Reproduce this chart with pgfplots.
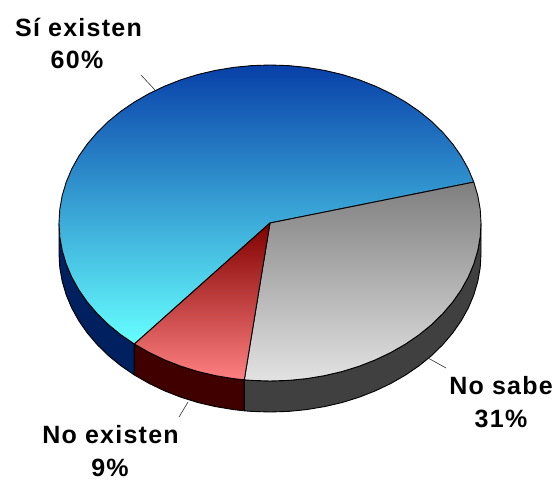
\documentclass[border=0pt]{standalone}
\usepackage{pgfplots}
\pgfplotsset{compat=1.18}
\usepackage{fontspec}
\setmainfont{Liberation Sans}
\newfontfamily\lab[LetterSpace=5]{Liberation Sans}
\definecolor{bluetop}{HTML}{0840A8}
\definecolor{bluebot}{HTML}{66FFFF}
\definecolor{graytop}{HTML}{7F7F7F}
\definecolor{graybot}{HTML}{E2E2E2}
\definecolor{redtop}{HTML}{800000}
\definecolor{redbot}{HTML}{FF8080}
\definecolor{blueside}{HTML}{002060}
\definecolor{redside}{HTML}{400000}
\definecolor{grayside}{HTML}{404040}
\begin{document}
\begin{tikzpicture}
\begin{axis}[
  scale only axis, width=559pt, height=479pt,
  xmin=0, xmax=559, ymin=0, ymax=479, y dir=reverse,
  hide axis, clip=false,
  every axis plot/.append style={line join=round},
]
% page extent
\addplot[draw=none, fill=white] coordinates {(0,0)(559,0)(559,479)(0,479)} -- cycle;
% sides
\addplot[draw=black, line width=0.9pt, fill=blueside] coordinates {
(59,223)(59.8,236.8)(62.2,250.4)(66.2,263.9)(71.7,277)(78.8,289.8)(87.3,302)(97.2,313.6)(108.4,324.6)(120.8,334.7)(134.4,344)
(134.4,375)(120.8,365.7)(108.4,355.6)(97.2,344.6)(87.3,333)(78.8,320.8)(71.7,308)(66.2,294.9)(62.2,281.4)(59.8,267.8)(59,254)} -- cycle;
\addplot[draw=black, line width=0.9pt, fill=redside] coordinates {
(134.4,344)(149,352.4)(164.5,359.8)(180.8,366.2)(197.8,371.5)(215.4,375.6)(233.4,378.6)(244.3,379.8)
(244.3,410.8)(233.4,409.6)(215.4,406.6)(197.8,402.5)(180.8,397.2)(164.5,390.8)(149,383.4)(134.4,375)} -- cycle;
\addplot[draw=black, line width=0.9pt, fill=grayside] coordinates {
(244.3,379.8)(251.6,380.4)(270,381)(288.4,380.4)(306.6,378.6)(324.6,375.6)(342.2,371.5)(359.2,366.2)(375.5,359.8)(391,352.4)(405.6,344)(419.2,334.7)(431.6,324.6)(442.8,313.6)(452.7,302)(461.2,289.8)(468.3,277)(473.8,263.9)(477.8,250.4)(480.2,236.8)(481,223)
(481,254)(480.2,267.8)(477.8,281.4)(473.8,294.9)(468.3,308)(461.2,320.8)(452.7,333)(442.8,344.6)(431.6,355.6)(419.2,365.7)(405.6,375)(391,383.4)(375.5,390.8)(359.2,397.2)(342.2,402.5)(324.6,406.6)(306.6,409.6)(288.4,411.4)(270,412)(251.6,411.4)(244.3,410.8)} -- cycle;
% Si existen 60%
\addplot[draw=black, line width=0.9pt, top color=bluetop, bottom color=bluebot] coordinates {
(270,223)(473.8,182.1)(468.3,169)(461.2,156.2)(452.7,144)(442.8,132.4)(431.6,121.4)(419.2,111.3)(405.6,102)(391,93.6)(375.5,86.2)(359.2,79.8)(342.2,74.5)(324.6,70.4)(306.6,67.4)(288.4,65.6)(270,65)(251.6,65.6)(233.4,67.4)(215.4,70.4)(197.8,74.5)(180.8,79.8)(164.5,86.2)(149,93.6)(134.4,102)(120.8,111.3)(108.4,121.4)(97.2,132.4)(87.3,144)(78.8,156.2)(71.7,169)(66.2,182.1)(62.2,195.6)(59.8,209.2)(59,223)(59.8,236.8)(62.2,250.4)(66.2,263.9)(71.7,277)(78.8,289.8)(87.3,302)(97.2,313.6)(108.4,324.6)(120.8,334.7)(134.4,344)} -- cycle;
% No sabe 31%
\addplot[draw=black, line width=0.9pt, top color=graytop, bottom color=graybot] coordinates {
(270,223)(244.3,379.8)(251.6,380.4)(270,381)(288.4,380.4)(306.6,378.6)(324.6,375.6)(342.2,371.5)(359.2,366.2)(375.5,359.8)(391,352.4)(405.6,344)(419.2,334.7)(431.6,324.6)(442.8,313.6)(452.7,302)(461.2,289.8)(468.3,277)(473.8,263.9)(477.8,250.4)(480.2,236.8)(481,223)(480.2,209.2)(477.8,195.6)(473.8,182.1)} -- cycle;
% No existen 9%
\addplot[draw=black, line width=0.9pt, top color=redtop, bottom color=redbot] coordinates {
(270,223)(134.4,344)(149,352.4)(164.5,359.8)(180.8,366.2)(197.8,371.5)(215.4,375.6)(233.4,378.6)(244.3,379.8)} -- cycle;
% leaders
\addplot[draw=black!80, line width=0.6pt] coordinates {(141,75)(155,90)};
\addplot[draw=black!80, line width=0.6pt] coordinates {(428,358)(446,368)};
\addplot[draw=black!80, line width=0.6pt] coordinates {(188,402)(179,417)};
% labels
\node[font=\fontsize{25}{25}\selectfont\lab\bfseries, anchor=center] at (axis cs:78.5,27) {Sí existen};
\node[font=\fontsize{25}{25}\selectfont\lab\bfseries, anchor=center] at (axis cs:77,60) {60\%};
\node[font=\fontsize{25}{25}\selectfont\lab\bfseries, anchor=center] at (axis cs:501,386) {No sabe};
\node[font=\fontsize{25}{25}\selectfont\lab\bfseries, anchor=center] at (axis cs:501,419) {31\%};
\node[font=\fontsize{25}{25}\selectfont\lab\bfseries, anchor=center] at (axis cs:110.5,435) {No existen};
\node[font=\fontsize{25}{25}\selectfont\lab\bfseries, anchor=center] at (axis cs:110,468) {9\%};
\end{axis}
\end{tikzpicture}
\end{document}
